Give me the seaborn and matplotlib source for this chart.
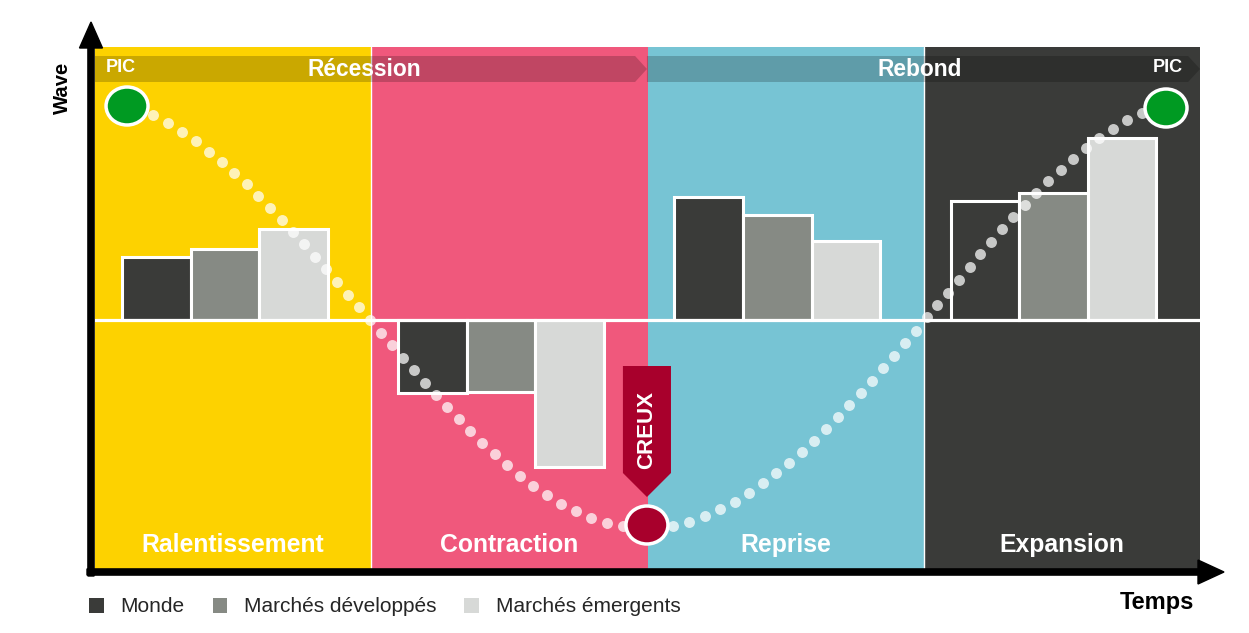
import numpy as np
import pandas as pd
import matplotlib
matplotlib.use("Agg")
import matplotlib.pyplot as plt
import seaborn as sns
from matplotlib.patches import Polygon, Ellipse, FancyArrow, Patch

# ---------------- data ----------------
phases = ["Ralentissement", "Contraction", "Reprise", "Expansion"]
regions = ["Monde", "Marchés développés", "Marchés émergents"]
monde = [0.63, -0.73, 1.23, 1.19]
developpes = [0.71, -0.72, 1.05, 1.27]
emergents = [0.91, -1.47, 0.79, 1.82]

# dotted wave (x in phase units 0..4, y in value units)
wave_x = [0.211, 0.265, 0.315, 0.365, 0.412, 0.459, 0.504, 0.549, 0.591, 0.635,
          0.677, 0.717, 0.758, 0.797, 0.837, 0.877, 0.917, 0.956, 0.994, 1.034,
          1.074, 1.115, 1.154, 1.193, 1.233, 1.274, 1.317, 1.359, 1.402, 1.447,
          1.493, 1.538, 1.587, 1.636, 1.688, 1.741, 1.797, 1.855, 1.912,
          2.093, 2.151, 2.208, 2.264, 2.317, 2.367, 2.418, 2.465, 2.512, 2.558,
          2.602, 2.645, 2.688, 2.729, 2.772, 2.813, 2.853, 2.892, 2.932, 2.971,
          3.011, 3.049, 3.089, 3.128, 3.166, 3.205, 3.243, 3.283, 3.324, 3.365,
          3.407, 3.451, 3.496, 3.541, 3.588, 3.635, 3.686, 3.737, 3.790]
wave_y = [2.050, 1.973, 1.883, 1.787, 1.683, 1.577, 1.467, 1.357, 1.240, 1.123,
          1.000, 0.877, 0.757, 0.630, 0.507, 0.380, 0.253, 0.127, 0.003, -0.127,
          -0.250, -0.380, -0.503, -0.627, -0.750, -0.873, -0.993, -1.110, -1.227, -1.340,
          -1.450, -1.557, -1.657, -1.750, -1.837, -1.913, -1.980, -2.027, -2.060,
          -2.057, -2.017, -1.963, -1.893, -1.817, -1.727, -1.633, -1.533, -1.427, -1.317,
          -1.207, -1.090, -0.973, -0.853, -0.730, -0.607, -0.483, -0.357, -0.233, -0.107,
          0.033, 0.150, 0.273, 0.403, 0.530, 0.657, 0.783, 0.910, 1.030, 1.153,
          1.273, 1.390, 1.503, 1.613, 1.717, 1.817, 1.910, 1.997, 2.073]

peak_points = [(0.116, 2.14), (3.877, 2.12)]
trough_point = (1.998, -2.05)

band_labels = ["Récession", "Rebond"]
pic_label = "PIC"
creux_label = "CREUX"

# ---------------- style ----------------
panel_colors = ["#FDD200", "#F0587C", "#77C4D4", "#3A3B39"]
bar_colors = {"Monde": "#3A3B39", "Marchés développés": "#868A84", "Marchés émergents": "#D7D9D7"}
FONT = ["Liberation Sans", "DejaVu Sans"]

sns.set_theme(style="white")
plt.rcParams["font.family"] = FONT

W, H = 1249, 633
fig = plt.figure(figsize=(W / 100, H / 100), dpi=100)
ax = fig.add_axes([95 / W, (H - 569) / H, 1105 / W, 522 / H])

d = 0.03  # shift between panel grid and bar groups
def px(xp):  # phase units -> data x
    return xp - 0.5 + d

df = pd.DataFrame({
    "phase": np.repeat(phases, 3),
    "region": regions * 4,
    "value": [v for trio in zip(monde, developpes, emergents) for v in trio],
})

# panels
for i, c in enumerate(panel_colors):
    ax.axvspan(px(i), px(i + 1), color=c, zorder=0, lw=0)

sns.barplot(data=df, x="phase", y="value", hue="region", order=phases,
            hue_order=regions, palette=bar_colors, saturation=1, width=0.745,
            edgecolor="white", linewidth=2.2, legend=False, ax=ax, zorder=3)

ax.set_xlim(px(0), px(4))
ax.set_ylim(-2.49, 2.73)
ax.set_axis_off()

# separators and zero line
for xs in (1, 3):
    ax.axvline(px(xs), color="white", lw=1.0, zorder=1)
ax.axhline(0, color="white", lw=2.3, zorder=4)

# wave dots
ax.scatter([px(v) for v in wave_x], wave_y, s=62, color="white", alpha=0.72,
           lw=0, zorder=5)

# circles
xs_per_px = 4 / 1105
ys_per_px = 5.22 / 522
for (cx, cy) in peak_points:
    ax.add_patch(Ellipse((px(cx), cy), 42 * xs_per_px, 38 * ys_per_px,
                         facecolor="#009A22", edgecolor="white", lw=2.5, zorder=7))
ax.add_patch(Ellipse((px(trough_point[0]), trough_point[1]), 42 * xs_per_px, 38 * ys_per_px,
                     facecolor="#A8002C", edgecolor="white", lw=2.5, zorder=7))

# top bands
y0, y1 = 2.38, 2.64
ym = (y0 + y1) / 2
band1 = [(0, y0), (1.955, y0), (1.998, ym), (1.955, y1), (0, y1)]
band2 = [(1.998, y0), (3.957, y0), (4.0, ym), (3.957, y1), (1.998, y1)]
for b in (band1, band2):
    ax.add_patch(Polygon([(px(x), y) for x, y in b], closed=True,
                         facecolor="black", alpha=0.2, lw=0, zorder=2))
ax.text(px(0.974), ym - 0.01, band_labels[0], color="white", fontsize=16.4,
        fontweight="bold", ha="center", va="center", zorder=8)
ax.text(px(2.986), ym - 0.01, band_labels[1], color="white", fontsize=16.4,
        fontweight="bold", ha="center", va="center", zorder=8)
ax.text(px(0.04), ym + 0.02, pic_label, color="white", fontsize=13,
        fontweight="bold", ha="left", va="center", zorder=8)
ax.text(px(3.884), ym + 0.02, pic_label, color="white", fontsize=13,
        fontweight="bold", ha="center", va="center", zorder=8)

# CREUX marker
creux = [(1.911, -0.46), (2.085, -0.46), (2.085, -1.53), (1.998, -1.77), (1.911, -1.53)]
ax.add_patch(Polygon([(px(x), y) for x, y in creux], closed=True,
                     facecolor="#A8002C", lw=0, zorder=6))
ax.text(px(1.998), -1.10, creux_label, color="white", fontsize=16, fontweight="bold",
        rotation=90, ha="center", va="center", zorder=8)

# phase labels
for i, p in enumerate(phases):
    ax.text(px(i + 0.5), -2.25, p, color="white", fontsize=17.8, fontweight="bold",
            ha="center", va="center", zorder=8)

# axis arrows (figure pixel coords via inches)
tr = fig.dpi_scale_trans
fig.add_artist(FancyArrow(0.91, (H - 576) / 100, 0, (576 - 22) / 100, width=0.062,
                          head_width=0.23, head_length=0.26, length_includes_head=True,
                          color="black", transform=tr))
fig.add_artist(FancyArrow(0.87, (H - 572) / 100, (1224 - 87) / 100, 0, width=0.062,
                          head_width=0.24, head_length=0.26, length_includes_head=True,
                          color="black", transform=tr))

fig.text(62 / W, 1 - 88 / H, "Wave", rotation=90, fontsize=14.6, fontweight="bold",
         ha="center", va="center", color="black")
fig.text(1157 / W, 1 - 602 / H, "Temps", fontsize=17, fontweight="bold",
         ha="center", va="center", color="black")

# legend
handles = [Patch(facecolor=bar_colors[r], edgecolor="none", label=r) for r in regions]
fig.legend(handles=handles, loc="center left", bbox_to_anchor=(89 / W, 1 - 607 / H),
           ncol=3, frameon=False, fontsize=15, handlelength=0.7, handleheight=0.7,
           handletextpad=0.8, columnspacing=1.35, borderpad=0, borderaxespad=0)

fig.savefig("out.png", dpi=100)
